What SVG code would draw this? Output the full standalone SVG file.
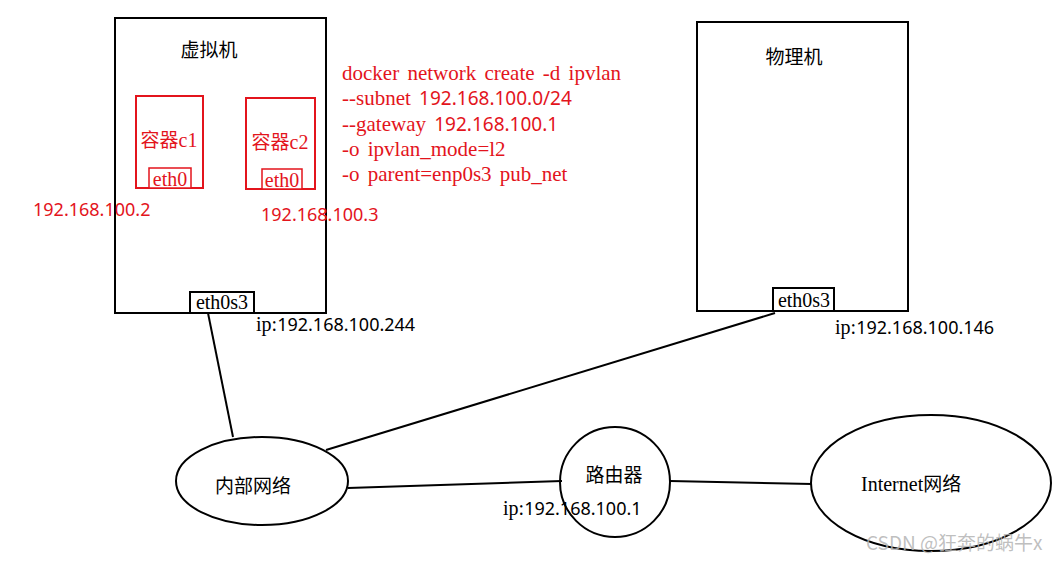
<svg xmlns="http://www.w3.org/2000/svg" width="1061" height="561" viewBox="0 0 1061 561">
<style>
.box{fill:none;stroke:#000;stroke-width:2}
.rbox{fill:none;stroke:#e3141c;stroke-width:2}
.wbox{fill:#fff;stroke:#000;stroke-width:2}
.rwbox{fill:#fff;stroke:#e3141c;stroke-width:1.5}
.ln{stroke:#000;stroke-width:2;fill:none}
.cjk{font-family:"Noto Sans CJK SC","Noto Sans",sans-serif;font-size:19px;fill:#000}
.serif{font-family:"Liberation Serif","DejaVu Serif",serif;font-size:20px}
.sans{font-family:"Noto Sans","DejaVu Sans",sans-serif;font-size:18px}
.cmd{font-family:"Liberation Serif","DejaVu Serif",serif;font-size:21px;word-spacing:3px}
.cmd .sans{font-size:19px}
.red{fill:#e3141c}
.blk{fill:#000}
</style>
<rect width="1061" height="561" fill="#fff"/>
<g id="connectors">
<line class="ln" x1="208" y1="313" x2="233" y2="437"/>
<line class="ln" x1="775" y1="313" x2="326" y2="450"/>
<line class="ln" x1="348" y1="488" x2="562" y2="481"/>
<line class="ln" x1="670" y1="481" x2="812" y2="484"/>
</g>
<g id="vm">
<rect class="box" x="115" y="18" width="211" height="295"/>
<text class="cjk" x="209" y="57" text-anchor="middle">虚拟机</text>
<rect class="wbox" x="190" y="292" width="64" height="21"/>
<text class="serif blk" x="222" y="309" text-anchor="middle">eth0s3</text>
</g>
<g id="c1">
<rect class="rbox" x="136" y="96" width="67" height="92"/>
<text class="cjk red" x="169" y="147" text-anchor="middle">容器<tspan class="serif" font-size="19">c1</tspan></text>
<rect class="rwbox" x="149" y="168" width="42" height="20"/>
<text class="serif red" x="170" y="186" text-anchor="middle" font-size="19">eth0</text>
</g>
<g id="c2">
<rect class="rbox" x="246" y="98" width="69" height="91"/>
<text class="cjk red" x="280" y="149" text-anchor="middle">容器<tspan class="serif" font-size="19">c2</tspan></text>
<rect class="rwbox" x="262" y="169" width="40" height="20"/>
<text class="serif red" x="282" y="187" text-anchor="middle" font-size="19">eth0</text>
</g>
<g id="cmd">
<text class="cmd red" x="342" y="80">docker network create -d ipvlan</text>
<text class="cmd red" x="342" y="105">--subnet <tspan class="sans">192.168.100.0/24</tspan></text>
<text class="cmd red" x="342" y="131">--gateway <tspan class="sans">192.168.100.1</tspan></text>
<text class="cmd red" x="342" y="156">-o ipvlan_mode=l2</text>
<text class="cmd red" x="342" y="181">-o parent=enp0s3 pub_net</text>
</g>
<g id="ips">
<text class="sans red" x="33" y="216" font-size="18.5">192.168.100.2</text>
<text class="sans red" x="261" y="221" font-size="18.5">192.168.100.3</text>
<text class="serif blk" x="256" y="331">ip:<tspan class="sans">192.168.100.244</tspan></text>
<text class="serif blk" x="835" y="334">ip:<tspan class="sans">192.168.100.146</tspan></text>
</g>
<g id="pm">
<rect class="box" x="697" y="22" width="211" height="289"/>
<text class="cjk" x="794" y="64" text-anchor="middle">物理机</text>
<rect class="wbox" x="773" y="288" width="61" height="23"/>
<text class="serif blk" x="804" y="307" text-anchor="middle">eth0s3</text>
</g>
<g id="internal">
<ellipse class="box" cx="262" cy="481" rx="86" ry="44"/>
<text class="cjk" x="253" y="493" text-anchor="middle">内部网络</text>
</g>
<g id="router">
<ellipse class="box" cx="615" cy="482" rx="55" ry="55"/>
<text class="cjk" x="614" y="482" text-anchor="middle">路由器</text>
<text class="serif blk" x="503" y="515">ip:<tspan class="sans">192.168.100.1</tspan></text>
</g>
<g id="internet">
<ellipse class="box" cx="931" cy="483" rx="120" ry="68"/>
<text class="serif blk" x="861" y="491" font-size="21">Internet<tspan class="cjk" font-size="20">网络</tspan></text>
</g>
<text x="866" y="550" font-family="'Noto Sans CJK SC','Noto Sans',sans-serif" font-size="19" fill="#b4b4b4" fill-opacity="0.85">CSDN @狂奔的蜗牛x</text>
</svg>
